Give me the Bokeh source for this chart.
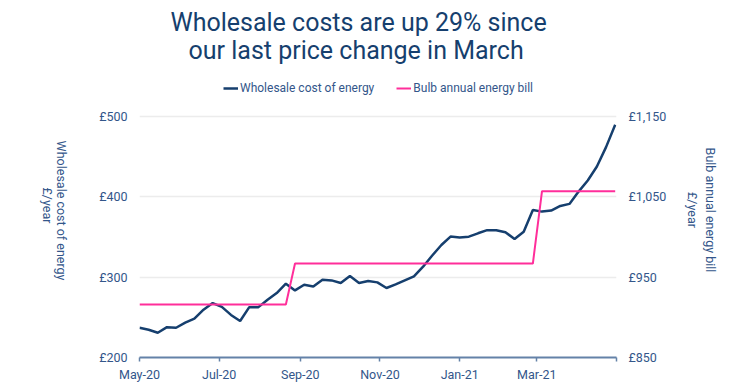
import math
import pandas as pd
from bokeh.plotting import figure
from bokeh.models import (Range1d, LinearAxis, FixedTicker, Legend, LegendItem, Title)
from bokeh.embed import file_html
from bokeh.resources import INLINE

# ---------------- data ----------------
start_date = "2020-05-01"
wholesale = [237, 234.5, 230.8, 237.8, 237, 243.3, 248.3, 259.5, 267.8, 263,
             253, 245.5, 262.7, 262.7, 271.9, 280.2, 291.9, 283.5, 290.6, 288.5,
             296.9, 296, 292.7, 301.4, 292.7, 295.2, 293.5, 286.5, 291, 296,
             301, 313, 327, 340, 350.5, 349.5, 350.4, 354.6, 358.5, 358.5,
             356, 347.5, 356.6, 383.7, 381.6, 382.9, 388.7, 391.2, 406.5, 420.3,
             437.7, 461.9, 489.7]
bulb_bill = [916] * 17 + [967] * 27 + [1057] * 9

x_tick_dates = ["2020-05-01", "2020-07-01", "2020-09-01", "2020-11-01",
                "2021-01-01", "2021-03-01", "2021-05-01"]
x_tick_labels = ["May-20", "Jul-20", "Sep-20", "Nov-20", "Jan-21", "Mar-21", ""]
left_ticks = [200, 300, 400, 500]
left_labels = ["£200", "£300", "£400", "£500"]
right_ticks = [850, 950, 1050, 1150]
right_labels = ["£850", "£950", "£1,050", "£1,150"]

title_lines = ["Wholesale costs are up 29% since", "our last price change in March"]
left_title_lines = ["Wholesale cost of energy", "£/year"]
right_title = "Bulb annual energy bill\n£/year"
series_names = ["Wholesale cost of energy", "Bulb annual energy bill"]

dates = pd.date_range(start_date, periods=len(wholesale), freq="7D")

# ---------------- layout ----------------
FONT = "Roboto"
NAVY = "#163f6e"
PINK = "#ff2e9a"
TXT = "#33568a"
AX = "#6482a8"

W, H = 730, 384
TOP, BOTTOM, LEFT, RIGHT = 62, 27, 139, 114
frame_h = H - TOP - BOTTOM
gap_top = 116 - TOP           # pixels between frame top and the top gridline
span = left_ticks[-1] - left_ticks[0]
px_per_unit = (frame_h - gap_top) / span
head = gap_top / px_per_unit  # extra headroom in data units

def page_y_to_left(yp):
    # converts a page pixel row to a left-axis value (used only to place titles)
    return left_ticks[0] + ((H - BOTTOM) - yp) / px_per_unit

p = figure(width=W, height=H, x_axis_type="datetime", output_backend="svg",
           toolbar_location=None,
           x_range=Range1d(pd.Timestamp(x_tick_dates[0]), pd.Timestamp(x_tick_dates[-1])),
           y_range=Range1d(left_ticks[0], left_ticks[-1] + head),
           min_border_left=LEFT, min_border_right=RIGHT, min_border_top=TOP,
           min_border_bottom=BOTTOM)
p.outline_line_color = None
p.extra_y_ranges = {"bill": Range1d(right_ticks[0], right_ticks[-1] + head)}

r1 = p.line(dates, wholesale, line_color=NAVY, line_width=2.5)
r2 = p.line(dates, bulb_bill, line_color=PINK, line_width=2, y_range_name="bill")

# x axis
tick_ms = [int(pd.Timestamp(d).value // 10**6) for d in x_tick_dates]
xa = p.xaxis[0]
xa.ticker = FixedTicker(ticks=tick_ms)
xa.major_label_overrides = {t: l for t, l in zip(tick_ms, x_tick_labels)}
xa.axis_line_color = AX
xa.axis_line_width = 2
xa.major_tick_line_color = AX
xa.major_tick_line_width = 1.5
xa.major_tick_out = 4
xa.major_tick_in = 0
xa.minor_tick_line_color = None
xa.major_label_standoff = 5
xa.major_label_text_font = FONT
xa.major_label_text_font_size = "12.5px"
xa.major_label_text_color = TXT

def style_y(ax, standoff):
    ax.axis_line_color = None
    ax.major_tick_line_color = None
    ax.minor_tick_line_color = None
    ax.major_tick_out = 0
    ax.major_tick_in = 0
    ax.major_label_standoff = standoff
    ax.major_label_text_font = FONT
    ax.major_label_text_font_size = "12.5px"
    ax.major_label_text_color = TXT

ya = p.yaxis[0]
ya.ticker = FixedTicker(ticks=left_ticks)
ya.major_label_overrides = {t: l for t, l in zip(left_ticks, left_labels)}
style_y(ya, 12)

# left titles: one outer axis per line, text rotated to read top-to-bottom,
# each line ending at the row where it ends in the reference
for txt, end_row, standoff in [(left_title_lines[0], 280, 35),
                               (left_title_lines[1], 223, -4)]:
    v = page_y_to_left(end_row)
    ax = LinearAxis(ticker=FixedTicker(ticks=[v]))
    ax.major_label_overrides = {v: txt}
    style_y(ax, standoff)
    ax.major_label_orientation = -math.pi / 2
    p.add_layout(ax, "left")

ra = LinearAxis(y_range_name="bill", ticker=FixedTicker(ticks=right_ticks))
ra.major_label_overrides = {t: l for t, l in zip(right_ticks, right_labels)}
style_y(ra, 12)
ra.axis_label = right_title
ra.axis_label_standoff = 16
ra.axis_label_text_font = FONT
ra.axis_label_text_font_size = "12.5px"
ra.axis_label_text_font_style = "normal"
ra.axis_label_text_color = TXT
p.add_layout(ra, "right")

p.xgrid.grid_line_color = None
p.ygrid.grid_line_color = "#ececec"
p.ygrid.grid_line_width = 1.5
p.ygrid.ticker = FixedTicker(ticks=left_ticks)

legend = Legend(items=[LegendItem(label=series_names[0], renderers=[r1]),
                       LegendItem(label=series_names[1], renderers=[r2])],
                location=(84, frame_h - (95 - TOP)), orientation="horizontal",
                border_line_color=None, background_fill_alpha=0,
                padding=0, margin=0, spacing=22, label_standoff=2,
                glyph_width=15, glyph_height=14, label_height=14,
                label_text_font=FONT, label_text_font_size="12px",
                label_text_color=TXT)
p.add_layout(legend, "center")

# title: last added is outermost
for line, off, so in reversed(list(zip(title_lines, [31, 49], [0, -5]))):
    p.add_layout(Title(text=line, align="left", offset=off, standoff=so,
                       text_font=FONT, text_font_size="25px", text_font_style="normal",
                       text_color=NAVY, text_line_height=1.0), "above")

open("out.html", "w").write(file_html(p, INLINE))
